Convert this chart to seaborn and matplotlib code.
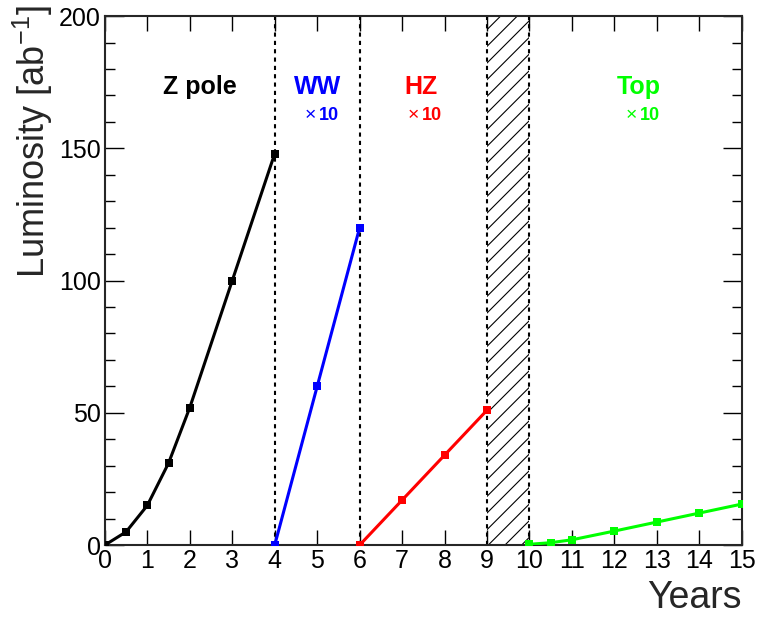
import pandas as pd
import seaborn as sns
import matplotlib.pyplot as plt
from matplotlib.ticker import MultipleLocator

# data
z_years = [0, 0.5, 1, 1.5, 2, 3, 4]
z_lumi = [0, 5, 15, 31, 52, 100, 148]
ww_years = [4, 5, 6]
ww_lumi = [0, 60, 120]
hz_years = [6, 7, 8, 9]
hz_lumi = [0, 17, 34, 51]
top_years = [10, 10.5, 11, 12, 13, 14, 15]
top_lumi = [0.3, 0.9, 2, 5.3, 8.7, 12.1, 15.5]
phase_bounds = [4, 6, 9, 10]

colors = {"Z pole": "black", "WW": "blue", "HZ": "red", "Top": "#00ff00"}

df = pd.concat([
    pd.DataFrame({"year": z_years, "lumi": z_lumi, "phase": "Z pole"}),
    pd.DataFrame({"year": ww_years, "lumi": ww_lumi, "phase": "WW"}),
    pd.DataFrame({"year": hz_years, "lumi": hz_lumi, "phase": "HZ"}),
    pd.DataFrame({"year": top_years, "lumi": top_lumi, "phase": "Top"}),
])

sns.set_style("ticks")
plt.rcParams["font.family"] = ["Liberation Sans", "DejaVu Sans"]
plt.rcParams["hatch.linewidth"] = 0.8

fig = plt.figure(figsize=(7.6, 6.18), dpi=100)
ax = fig.add_axes([0.138, 0.118, 0.838, 0.856])

# shutdown period
ax.axvspan(9, 10, fill=False, hatch="//", edgecolor="black", linewidth=0)
for b in phase_bounds:
    ax.axvline(b, color="black", linestyle=(0, (2, 2)), linewidth=1.5, zorder=1)

sns.lineplot(data=df, x="year", y="lumi", hue="phase", palette=colors,
             marker="s", markersize=5.5, markeredgewidth=0, linewidth=2.2,
             legend=False, ax=ax, zorder=3)

ax.set_xlim(0, 15)
ax.set_ylim(0, 200)
ax.xaxis.set_major_locator(MultipleLocator(1))
ax.yaxis.set_major_locator(MultipleLocator(50))
ax.yaxis.set_minor_locator(MultipleLocator(10))
ax.tick_params(axis="both", which="both", direction="in", top=True, right=True,
               labelsize=18, width=1, colors="black")
ax.tick_params(axis="x", which="major", length=11, pad=3)
ax.tick_params(axis="y", which="major", length=14, pad=3)
ax.tick_params(axis="y", which="minor", length=7)
for s in ax.spines.values():
    s.set_linewidth(1.5)

ax.set_xlabel("Years", fontsize=27, loc="right", labelpad=5)
ax.set_ylabel("Luminosity [ab$^{\\mathregular{-1}}$]", fontsize=26, loc="top", labelpad=3)
ax.yaxis.label.set_y(1.021)

ax.text(2.24, 173, "Z pole", color="black", fontsize=18, fontweight="bold",
        ha="center", va="center")
for label, xc in [("WW", 5.0), ("HZ", 7.44), ("Top", 12.57)]:
    c = colors[label]
    ax.text(xc - 0.03, 162.5, "\u00d7", color=c, fontsize=14, ha="right", va="center")
    ax.text(xc, 173, label, color=c, fontsize=18, fontweight="bold",
            ha="center", va="center")
    ax.text(xc + 0.03, 162.5, "10", color=c, fontsize=13, fontweight="bold",
            ha="left", va="center")

fig.savefig("out.png", dpi=100)
